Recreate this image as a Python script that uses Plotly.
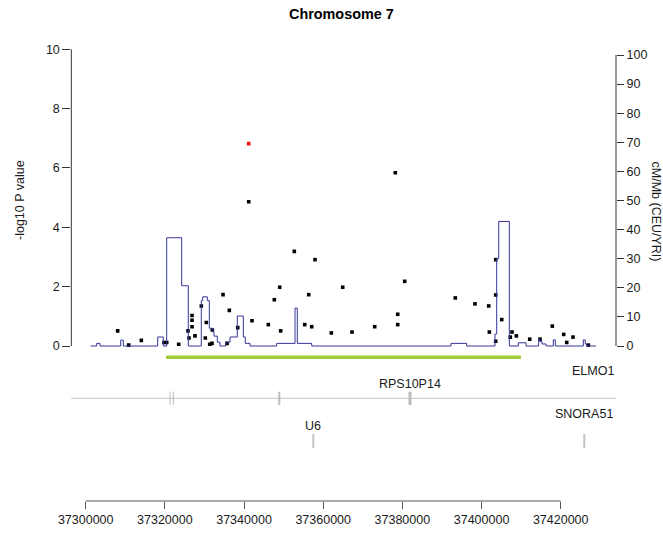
import plotly.graph_objects as go

# ---------------- data ----------------
snp_pos = [37341180, 37352700, 37357930, 37349010, 37364930, 37334690, 37356340,
           37347650, 37329210, 37336280, 37326860, 37326860, 37342010, 37330470,
           37346130, 37355330, 37357100, 37326860, 37338400, 37308080, 37325850,
           37331990, 37349260, 37362050, 37367280, 37327610, 37314050, 37326100,
           37330220, 37319780, 37320460, 37310860, 37323490, 37331330, 37331910,
           37335700, 37378210, 37403580, 37380590, 37393370, 37403580, 37398350,
           37401810, 37378820, 37405100, 37373010, 37378820, 37417880, 37401970,
           37407700, 37420760, 37408790, 37407270, 37423110, 37412170, 37414780,
           37403580, 37421520, 37426980]
snp_logp = [4.86, 3.19, 2.91, 1.98, 1.98, 1.73, 1.73,
            1.56, 1.35, 1.20, 1.03, 0.87, 0.85, 0.79,
            0.72, 0.72, 0.65, 0.65, 0.62, 0.51, 0.51,
            0.54, 0.51, 0.44, 0.47, 0.34, 0.19, 0.27,
            0.27, 0.12, 0.12, 0.03, 0.06, 0.06, 0.09,
            0.09, 5.84, 2.91, 2.18, 1.62, 1.72, 1.42,
            1.35, 1.07, 0.89, 0.65, 0.72, 0.67, 0.47,
            0.47, 0.39, 0.34, 0.30, 0.30, 0.23, 0.23,
            0.16, 0.12, 0.03]
lead_pos = [37341180]
lead_logp = [6.82]

recomb_pos = [37301260, 37302780, 37303610, 37308840, 37309500, 37318190, 37319600,
              37320460, 37324250, 37325920, 37329200, 37329560, 37330720, 37331230,
              37332080, 37332410, 37333250, 37333930, 37335370, 37336460, 37338300,
              37339820, 37340320, 37341510, 37348250, 37352880, 37353460, 37357100,
              37392290, 37396250, 37403400, 37403830, 37404340, 37407020, 37409290,
              37411240, 37414440, 37414770, 37415280, 37416290, 37418130, 37418640,
              37425710, 37426210, 37426570, 37428920]
recomb_rate = [0, 0.9, 0, 2.0, 0, 3.1, 0,
               37.2, 20.7, 0, 15.6, 16.9, 15.6, 6.1,
               4.9, 3.4, 1.3, 0, 1.3, 3.1, 10.3,
               3.1, 0.9, 0, 0.9, 13.0, 0.9, 0,
               0.9, 0, 4.1, 30.1, 42.8, 0, 1.1,
               0, 2.3, 1.5, 0.7, 0, 2.1, 0,
               2.1, 0.7, 0, 0]

region_start, region_end = 37320290, 37409970          # green bar
elmo1_span = [36859000, 37455000]                       # gene line (clipped)
elmo1_exons = [37321300, 37322130, 37348910]
rps_pos = [37381930]
small_genes = ["U6", "SNORA51"]
small_gene_pos = [37357500, 37425960]

x_ticks = [37300000, 37320000, 37340000, 37360000, 37380000, 37400000, 37420000]
p_ticks = [0, 2, 4, 6, 8, 10]
r_ticks = [0, 10, 20, 30, 40, 50, 60, 70, 80, 90, 100]

# ---------------- layout constants ----------------
W, H = 663, 539
XR = [37296362, 37433970]
xd = [71.3 / W, 616 / W]
top_dom = [1 - 350 / H, 1 - 30 / H]
gene_dom = [1 - 460 / H, 1 - 350 / H]
bot_dom = [1 - 501 / H, 1 - 480 / H]
FONT = "Liberation Sans, Arial, sans-serif"
TXT = "#1a1a1a"
AX = "#333333"

fig = go.Figure()

# recombination rate (right axis)
fig.add_trace(go.Scatter(x=recomb_pos, y=recomb_rate, mode="lines", line_shape="hv",
                         line=dict(color="#35359a", width=1), xaxis="x", yaxis="y2",
                         hoverinfo="skip"))
# SNPs
fig.add_trace(go.Scatter(x=snp_pos, y=snp_logp, mode="markers",
                         marker=dict(symbol="square", size=3.6, color="black"),
                         xaxis="x", yaxis="y"))
fig.add_trace(go.Scatter(x=lead_pos, y=lead_logp, mode="markers",
                         marker=dict(symbol="square", size=3.6, color="#ee1111"),
                         xaxis="x", yaxis="y"))

# gene panel
ROW_BAR, ROW_GENE, ROW_SMALL = 0.934, 0.561, 0.173
fig.add_trace(go.Scatter(x=[region_start, region_end], y=[ROW_BAR, ROW_BAR], mode="lines",
                         line=dict(color="#a2cd3c", width=3.5), xaxis="x2", yaxis="y3"))
fig.add_trace(go.Scatter(x=elmo1_span, y=[ROW_GENE, ROW_GENE], mode="lines",
                         line=dict(color="#c4c4c4", width=1), xaxis="x2", yaxis="y3"))
exon_w = [1, 1, 2]
for p, w in zip(elmo1_exons, exon_w):
    fig.add_trace(go.Scatter(x=[p, p], y=[ROW_GENE - 0.06, ROW_GENE + 0.06], mode="lines",
                             line=dict(color="#bdbdbd", width=w), xaxis="x2", yaxis="y3"))
for p in rps_pos:
    fig.add_trace(go.Scatter(x=[p, p], y=[ROW_GENE - 0.06, ROW_GENE + 0.06], mode="lines",
                             line=dict(color="#bdbdbd", width=3), xaxis="x2", yaxis="y3"))
for p in small_gene_pos:
    fig.add_trace(go.Scatter(x=[p, p], y=[ROW_SMALL - 0.064, ROW_SMALL + 0.064], mode="lines",
                             line=dict(color="#c4c4c4", width=2), xaxis="x2", yaxis="y3"))

# bottom axis carrier (invisible)
fig.add_trace(go.Scatter(x=[x_ticks[0], x_ticks[-1]], y=[0, 0], mode="markers",
                         marker=dict(opacity=0), xaxis="x3", yaxis="y4", hoverinfo="skip"))

annotations = [
    dict(text="<b>Chromosome 7</b>", x=341.3 / W, y=1 - 13.5 / H, xref="paper", yref="paper",
         showarrow=False, font=dict(size=14.4, color="black", family=FONT),
         xanchor="center", yanchor="middle"),
    dict(text="-log10 P value", x=20 / W, y=1 - 200 / H, xref="paper", yref="paper",
         showarrow=False, textangle=-90, font=dict(size=12.5, color=TXT, family=FONT),
         xanchor="center", yanchor="middle"),
    dict(text="cM/Mb (CEU/YRI)", x=656 / W, y=1 - 211.5 / H, xref="paper", yref="paper",
         showarrow=False, textangle=90, font=dict(size=12.5, color=TXT, family=FONT),
         xanchor="center", yanchor="middle"),
    dict(text="ELMO1", x=616 / W, y=0.809, xref="paper", yref="y3", showarrow=False,
         font=dict(size=12.5, color=TXT, family=FONT), xanchor="right", yanchor="middle"),
    dict(text="RPS10P14", x=rps_pos[0], y=0.688, xref="x2", yref="y3", showarrow=False,
         font=dict(size=12.5, color=TXT, family=FONT), xanchor="center", yanchor="middle"),
]
label_rows = [0.309, 0.415]
for g, p, r in zip(small_genes, small_gene_pos, label_rows):
    annotations.append(dict(text=g, x=p, y=r, xref="x2", yref="y3", showarrow=False,
                            font=dict(size=12.5, color=TXT, family=FONT),
                            xanchor="center", yanchor="middle"))

shapes = [
    dict(type="line", xref="paper", yref="y", x0=xd[0], x1=xd[0], y0=0, y1=10,
         line=dict(color=AX, width=1)),
    dict(type="line", xref="paper", yref="y2", x0=xd[1], x1=xd[1], y0=0, y1=100,
         line=dict(color=AX, width=1)),
    dict(type="line", xref="x3", yref="paper", x0=x_ticks[0], x1=x_ticks[-1],
         y0=bot_dom[0], y1=bot_dom[0], line=dict(color="#555555", width=1)),
]

tickfont = dict(size=12.5, color=TXT, family=FONT)
fig.update_layout(
    width=W, height=H, margin=dict(l=0, r=0, t=0, b=0, autoexpand=False),
    paper_bgcolor="white", plot_bgcolor="white", showlegend=False,
    font=dict(family=FONT),
    xaxis=dict(domain=xd, range=XR, visible=False, anchor="y"),
    yaxis=dict(domain=top_dom, range=[-0.1348, 10.650], tickvals=p_ticks,
               ticks="outside", ticklen=8, tickcolor=AX, showgrid=False,
               zeroline=False, showline=False, tickfont=tickfont, anchor="x"),
    yaxis2=dict(overlaying="y", side="right", range=[-1.375, 108.59], tickvals=r_ticks,
                ticks="outside", ticklen=7, tickcolor=AX, showgrid=False,
                zeroline=False, showline=False, tickfont=tickfont, anchor="x"),
    xaxis2=dict(domain=xd, range=XR, visible=False, anchor="y3"),
    yaxis3=dict(domain=gene_dom, range=[0, 1], visible=False, anchor="x2"),
    xaxis3=dict(domain=xd, range=XR, anchor="y4", tickvals=x_ticks,
                ticktext=[str(t) for t in x_ticks], ticks="outside", ticklen=7,
                tickcolor="#555555", showgrid=False, zeroline=False, showline=False,
                tickfont=tickfont),
    yaxis4=dict(domain=bot_dom, range=[0, 1], visible=False, anchor="x3"),
    annotations=annotations, shapes=shapes,
)

fig.write_html("out.html")
